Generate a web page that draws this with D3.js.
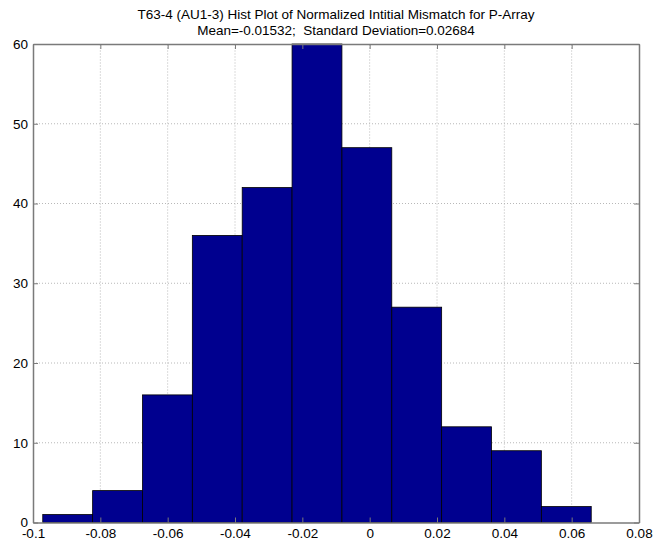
<!DOCTYPE html>
<html>
<head>
<meta charset="utf-8">
<script src="https://cdn.jsdelivr.net/npm/d3@7"></script>
<style>
  html, body { margin: 0; padding: 0; background: #fff; }
  svg { display: block; font-family: Arial, "Liberation Sans", sans-serif; }
  .title { white-space: pre; }
</style>
</head>
<body>
<svg id="chart" width="654" height="544"></svg>
<script>
// Histogram of normalized initial mismatch (11 equal-width bins)
const binStart = -0.0971;
const binWidth = 0.01481;
const counts = [1, 4, 16, 36, 42, 60, 47, 27, 12, 9, 2];
const xTicks = [-0.1, -0.08, -0.06, -0.04, -0.02, 0, 0.02, 0.04, 0.06, 0.08];
const yTicks = [0, 10, 20, 30, 40, 50, 60];
const titleLines = [
  "T63-4 (AU1-3) Hist Plot of Normalized Intitial Mismatch for P-Array",
  "Mean=-0.01532;  Standard Deviation=0.02684"
];

const bins = counts.map((c, i) => ({
  x0: binStart + i * binWidth,
  x1: binStart + (i + 1) * binWidth,
  count: c
}));

const margin = { left: 33, top: 44, right: 15, bottom: 21.5 };
const W = 654, H = 544;
const svg = d3.select("#chart");

const x = d3.scaleLinear().domain([-0.1, 0.08]).range([margin.left, W - margin.right]);
const y = d3.scaleLinear().domain([0, 60]).range([H - margin.bottom, margin.top]);

const fmt = d => (d === 0 ? "0" : String(+d.toFixed(2)));

// grid lines (dotted)
const grid = svg.append("g");
grid.selectAll("line.gx").data(xTicks.slice(1, -1)).join("line")
  .attr("x1", d => x(d)).attr("x2", d => x(d))
  .attr("y1", y(0)).attr("y2", y(60))
  .attr("stroke", "#b8b8b8").attr("stroke-width", 1)
  .attr("stroke-dasharray", "1,2");
grid.selectAll("line.gy").data(yTicks.slice(1, -1)).join("line")
  .attr("y1", d => y(d)).attr("y2", d => y(d))
  .attr("x1", x(-0.1)).attr("x2", x(0.08))
  .attr("stroke", "#b8b8b8").attr("stroke-width", 1)
  .attr("stroke-dasharray", "1,2");

// bars
svg.append("g").selectAll("rect").data(bins).join("rect")
  .attr("x", d => x(d.x0))
  .attr("y", d => y(d.count))
  .attr("width", d => x(d.x1) - x(d.x0))
  .attr("height", d => y(0) - y(d.count))
  .attr("fill", "#00008f")
  .attr("stroke", "#000").attr("stroke-width", 0.8);

// axes: bottom and left carry labels, top and right mirror the ticks
const axisColor = "#7a7a7a";
const tickLen = 5;
const labelSize = 13.5;
function styleAxis(g) {
  g.selectAll("path.domain").attr("stroke", axisColor).attr("stroke-width", 1.5);
  g.selectAll(".tick line").attr("stroke", axisColor);
  g.selectAll(".tick text").attr("fill", "#000").attr("font-size", labelSize)
    .attr("font-family", "Arial, 'Liberation Sans', sans-serif");
}

svg.append("g").attr("transform", `translate(0,${y(0)})`)
  .call(d3.axisBottom(x).tickValues(xTicks).tickFormat(fmt).tickSizeInner(-tickLen).tickSizeOuter(0).tickPadding(6))
  .call(styleAxis);
svg.append("g").attr("transform", `translate(0,${y(60)})`)
  .call(d3.axisTop(x).tickValues(xTicks).tickFormat("").tickSizeInner(-tickLen).tickSizeOuter(0))
  .call(styleAxis);
svg.append("g").attr("transform", `translate(${x(-0.1)},0)`)
  .call(d3.axisLeft(y).tickValues(yTicks).tickFormat(d3.format("d")).tickSizeInner(-tickLen).tickSizeOuter(0).tickPadding(5))
  .call(styleAxis);
svg.append("g").attr("transform", `translate(${x(0.08)},0)`)
  .call(d3.axisRight(y).tickValues(yTicks).tickFormat("").tickSizeInner(-tickLen).tickSizeOuter(0))
  .call(styleAxis);

// title
svg.append("g").selectAll("text").data(titleLines).join("text")
  .attr("class", "title")
  .attr("x", (x(-0.1) + x(0.08)) / 2)
  .attr("y", (d, i) => 19 + i * 16)
  .attr("text-anchor", "middle")
  .attr("font-size", 13.5)
  .attr("fill", "#000")
  .text(d => d);
</script>
</body>
</html>
